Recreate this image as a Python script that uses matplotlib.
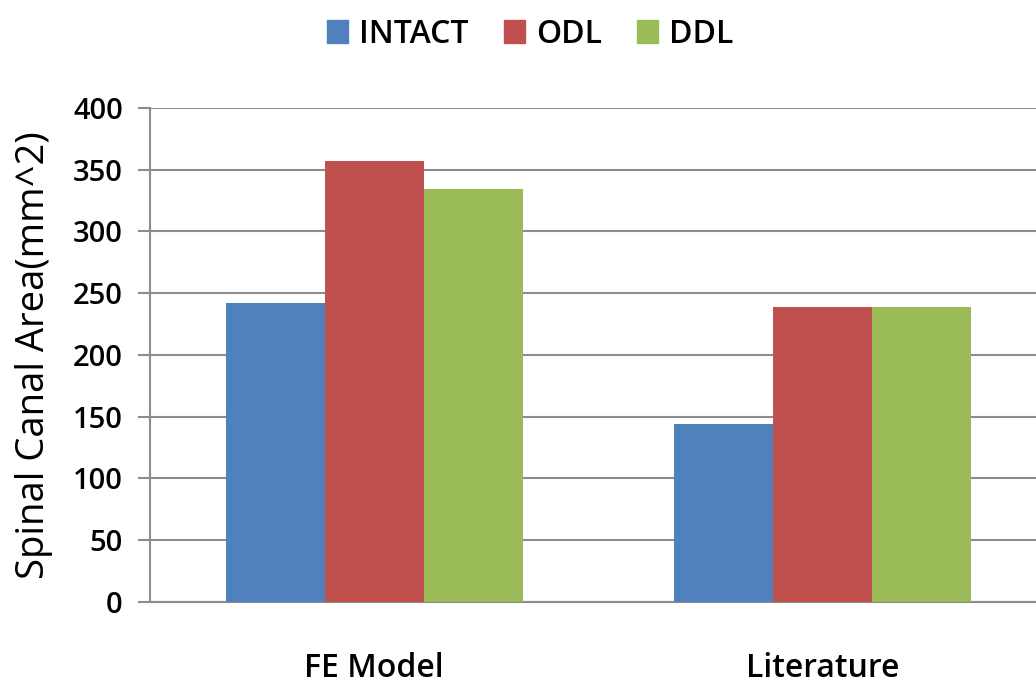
import numpy as np
import matplotlib.pyplot as plt
from matplotlib.patches import Patch

# data
categories = ['FE Model', 'Literature']
series = ['INTACT', 'ODL', 'DDL']
intact = [242, 144]
odl = [357, 239]
ddl = [334, 239]
colors = ['#4f81bd', '#c0504d', '#9bbb59']

plt.rcParams['font.family'] = ['Open Sans', 'DejaVu Sans']

fig = plt.figure(figsize=(10.36, 6.85), dpi=100)
ax = fig.add_axes([0.1448, 0.1212, 0.8552, 0.7212])

x = np.arange(len(categories))
w = 0.221
for i, (vals, c) in enumerate(zip([intact, odl, ddl], colors)):
    ax.bar(x + (i - 1) * w, vals, width=w, color=c, zorder=3)

ax.set_ylim(0, 400)
ax.set_xlim(-0.5, 1.477)
ax.set_yticks(np.arange(0, 401, 50))
ax.set_xticks(x)
ax.set_xticklabels(categories, fontsize=23, fontweight='semibold')
ax.tick_params(axis='x', length=0, pad=36)
ax.tick_params(axis='y', length=8.6, width=1.5, color='#8c8c8c', labelsize=21, pad=11)
for lab in ax.get_yticklabels():
    lab.set_fontweight('semibold')

ax.grid(axis='y', color='#8c8c8c', linewidth=1.5, zorder=0)
for s in ['top', 'right']:
    ax.spines[s].set_visible(False)
for s in ['left', 'bottom']:
    ax.spines[s].set_color('#8c8c8c')
    ax.spines[s].set_linewidth(1.5)

ax.set_ylabel('Spinal Canal Area(mm^2)', fontsize=27.5, labelpad=14)

handles = [Patch(color=c, label=s) for s, c in zip(series, colors)]
fig.legend(handles=handles, loc='center', bbox_to_anchor=(0.512, 0.95), ncol=3,
           frameon=False, handlelength=0.65, handleheight=0.75, handletextpad=0.35,
           columnspacing=1.1, prop={'size': 23, 'weight': 'semibold'})

fig.savefig('out.png', dpi=100)
